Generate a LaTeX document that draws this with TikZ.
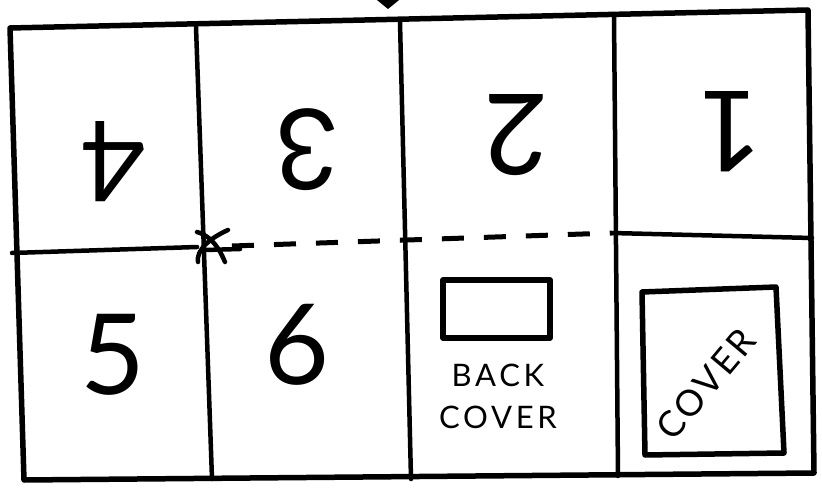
\documentclass[tikz,border=0pt]{standalone}
\usepackage{fontspec}
\setmainfont{Lato}
\begin{document}
\begin{tikzpicture}[x=1pt,y=-1pt,
  ink/.style={line width=5.5pt,line cap=round,line join=round,black},
  thinink/.style={line width=4.5pt,line cap=round,line join=round,black},
  digit/.style={font=\fontsize{112}{112}\selectfont,inner sep=0pt},
  hand/.style={font=\fontsize{31}{42}\selectfont\addfontfeature{LetterSpace=12},inner sep=0pt,align=center}]
\useasboundingbox[fill=white] (0,0) rectangle (822,489);
% corners
\coordinate (tl) at (10,28);
\coordinate (tr) at (808,10);
\coordinate (br) at (814,473);
\coordinate (bl) at (24,480);
\draw[ink] (tl) -- (tr) -- (br) -- (bl) -- cycle;
% folds
\coordinate (v1t) at (196,27); \coordinate (v1b) at (212,479);
\coordinate (v2t) at (400,22); \coordinate (v2b) at (411,479);
\coordinate (v3t) at (614,15); \coordinate (v3b) at (618,476);
\draw[thinink] (v1t) -- (v1b);
\draw[thinink] (v2t) -- (v2b);
\draw[thinink] (v3t) -- (v3b);
\coordinate (hl1) at (12,253); \coordinate (hl2) at (197,247);
\coordinate (hr1) at (612,233); \coordinate (hr2) at (812,238);
\draw[thinink] (hl1) -- (hl2);
\draw[thinink] (hr1) -- (hr2);
\coordinate (d1) at (232,246); \coordinate (d2) at (612,233);
\draw[line width=5pt,dash pattern=on 22pt off 20pt] (d1) -- (d2);
% scissors mark
\coordinate (xb) at (225,262);
\coordinate (xc) at (228,230); \coordinate (xd) at (198,262);
\draw[thinink] (xc) .. controls (210,238) and (196,250) .. (xd);
\draw[thinink] (197,232) .. controls (212,236) and (220,250) .. (xb);
\draw[thinink] (205,250) -- (240,249);
% arrow at top
\coordinate (a1) at (372,-4); \coordinate (a2) at (404,-4); \coordinate (a3) at (388,9);
\fill (a1) -- (a2) -- (a3) -- cycle;
% digits
\node[digit,rotate=180] (n4) at (113,162) {4};
\node[digit,rotate=180] (n3) at (307,150) {3};
\node[digit,rotate=180] (n2) at (516,135) {2};
\node[digit,rotate=180] (n1) at (730,132) {1};
\node[digit] (n5) at (113,355) {5};
\node[digit] (n6) at (297,345) {6};
% back cover
\draw[ink] (443,280) rectangle (550,338);
\node[hand] (back) at (498,396) {BACK\\COVER};
% cover
\draw[ink] (642,292) -- (776,287) -- (784,453) -- (645,455) -- cycle;
\node[hand,font=\fontsize{36}{40}\selectfont\addfontfeature{LetterSpace=8},rotate=50] (cover) at (706,384) {COVER};
\end{tikzpicture}
\end{document}
